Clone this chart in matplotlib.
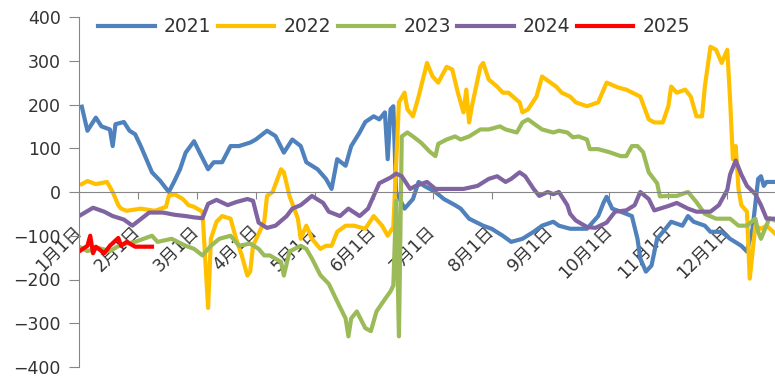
import matplotlib
matplotlib.use('Agg')
import matplotlib.pyplot as plt

plt.rcParams['font.family'] = ['DejaVu Sans', 'Noto Sans CJK SC']

# trading-day index within the year -> spread value
x21 = [1, 3, 6, 8, 11, 12, 13, 16, 18, 20, 22, 24, 26, 29, 32, 34, 36, 38, 41, 43,
       46, 48, 51, 54, 57, 61, 63, 67, 70, 73, 76, 79, 81, 85, 88, 90, 92, 95, 97, 100,
       102, 105, 107, 109, 110, 111, 112, 113, 116, 119, 121, 123, 127, 130, 134, 136, 139, 144, 147, 151,
       154, 158, 162, 165, 169, 171, 175, 178, 181, 185, 187, 188, 190, 193, 197, 199, 200, 202, 204, 206,
       209, 211, 215, 217, 219, 223, 225, 229, 232, 236, 238, 240, 242, 243, 244, 245, 248]
y21 = [195, 140, 170, 150, 143, 105, 155, 160, 140, 132, 105, 75, 45, 25, 0, 25, 52, 90, 116, 90,
       52, 68, 68, 105, 105, 113, 120, 140, 128, 90, 120, 105, 68, 52, 30, 7, 75, 60, 105, 136,
       160, 173, 166, 182, 75, 189, 196, 0, -38, -16, 23, 14, 0, -16, -30, -38, -61, -77, -84, -100,
       -114, -107, -91, -77, -68, -77, -84, -84, -84, -55, -23, -11, -38, -45, -55, -107, -152, -182, -168, -107,
       -84, -68, -77, -55, -68, -77, -91, -91, -107, -123, -136, -84, 30, 36, 14, 23, 23]

x22 = [1, 3, 6, 10, 12, 14, 15, 17, 22, 27, 31, 32, 34, 37, 39, 41, 44, 46, 47, 49,
       51, 54, 56, 58, 60, 61, 62, 66, 67, 69, 72, 73, 75, 78, 79, 81, 83, 86, 88, 90,
       92, 95, 98, 102, 105, 108, 110, 112, 114, 116, 117, 119, 121, 124, 126, 128, 131, 133, 135, 137,
       138, 139, 140, 143, 144, 146, 149, 151, 153, 157, 158, 160, 163, 165, 168, 170, 172, 175, 177, 181,
       185, 188, 192, 195, 200, 203, 205, 208, 210, 211, 213, 216, 218, 220, 222, 223, 225, 227, 229, 231,
       232, 233, 234, 235, 236, 238, 239, 241, 243, 245, 248]
y22 = [18, 25, 18, 23, 0, -30, -38, -43, -38, -43, -34, -9, -5, -16, -30, -34, -45, -265, -107, -68,
       -55, -61, -107, -145, -191, -182, -123, -68, -9, 0, 52, 45, -9, -61, -107, -77, -107, -130, -123, -123,
       -91, -77, -77, -84, -55, -77, -100, -80, 205, 227, 189, 173, 218, 295, 264, 250, 286, 280, 227, 182,
       234, 159, 196, 286, 295, 257, 241, 227, 227, 205, 182, 189, 218, 264, 250, 241, 227, 218, 205, 196,
       205, 250, 239, 234, 218, 166, 159, 159, 196, 241, 227, 234, 218, 173, 173, 241, 332, 325, 295, 325,
       211, 75, 105, 7, -30, -45, -198, -77, -84, -77, -95]

x23 = [0, 3, 7, 11, 15, 20, 26, 28, 33, 38, 41, 44, 47, 50, 54, 57, 61, 64, 66, 68,
       72, 73, 75, 79, 81, 83, 86, 89, 92, 95, 96, 97, 99, 102, 104, 106, 109, 111, 112, 113,
       114, 115, 117, 119, 122, 125, 127, 128, 131, 134, 136, 139, 143, 146, 150, 152, 156, 158, 160, 163,
       165, 169, 171, 174, 176, 178, 181, 182, 185, 189, 193, 195, 197, 199, 201, 203, 206, 207, 210, 213,
       217, 220, 223, 227, 232, 235, 238, 241, 242, 243, 246, 248]
y23 = [-125, -135, -128, -135, -120, -114, -100, -114, -107, -123, -130, -145, -123, -107, -100, -123, -118, -130, -145, -145,
       -160, -191, -136, -123, -130, -152, -190, -210, -250, -289, -330, -289, -273, -311, -318, -273, -245, -227, -214, -20,
       -330, 127, 136, 127, 112, 92, 82, 110, 120, 127, 120, 127, 143, 143, 150, 143, 136, 159, 166, 152,
       143, 136, 140, 136, 125, 127, 120, 98, 98, 91, 82, 82, 105, 105, 91, 45, 20, -10, -9, -9,
       0, -23, -50, -61, -61, -77, -77, -61, -91, -107, -60, -65]

x24 = [0, 5, 9, 12, 16, 19, 22, 25, 30, 34, 38, 41, 44, 46, 49, 53, 56, 60, 62, 64,
       67, 70, 74, 76, 79, 83, 87, 89, 93, 96, 100, 103, 105, 107, 111, 113, 115, 118, 120, 124,
       127, 132, 137, 142, 146, 149, 152, 154, 157, 159, 162, 164, 167, 169, 171, 174, 175, 177, 181, 184,
       188, 191, 195, 198, 200, 203, 205, 210, 213, 217, 220, 225, 228, 231, 232, 234, 236, 238, 241, 243,
       245, 248]
y24 = [-55, -36, -45, -55, -63, -77, -62, -47, -47, -52, -55, -58, -60, -27, -18, -30, -23, -16, -20, -70,
       -82, -77, -55, -38, -30, -9, -25, -45, -55, -38, -55, -38, -9, 20, 33, 42, 36, 7, 14, 23,
       7, 7, 7, 14, 30, 36, 23, 30, 45, 36, 7, -9, 0, -5, 0, -30, -50, -65, -80, -82,
       -70, -45, -42, -30, 0, -16, -42, -32, -25, -38, -45, -45, -30, 5, 40, 72, 40, 14, -5, -30,
       -61, -61]

x25 = [0, 3, 4, 5, 6, 9, 11, 14, 15, 17, 20, 23, 26]
y25 = [-136, -123, -100, -140, -125, -140, -123, -105, -123, -114, -125, -125, -125]

years = ['2021', '2022', '2023', '2024', '2025']
colors = ['#4F81BD', '#FFC000', '#9BBB59', '#8064A2', '#FF0000']

month_ticks = [0, 21, 42, 63, 84, 105, 126, 147, 168, 189, 210, 231]
month_labels = ['1月1日', '2月1日', '3月1日', '4月1日', '5月1日', '6月1日',
                '7月1日', '8月1日', '9月1日', '10月1日', '11月1日', '12月1日']


def style_axes(ax):
    axis_grey = '#868686'
    ax.spines['top'].set_visible(False)
    ax.spines['right'].set_visible(False)
    ax.spines['left'].set_color(axis_grey)
    ax.spines['bottom'].set_color(axis_grey)
    ax.spines['bottom'].set_position(('data', 0))
    ax.set_xlim(0, 248)
    ax.set_ylim(-400, 400)
    ax.set_yticks(range(-400, 401, 100))
    ax.set_xticks(month_ticks)
    ax.set_xticklabels(month_labels, rotation=45, ha='right', va='center',
                       rotation_mode='anchor', fontsize=12.5)
    ax.tick_params(axis='y', colors=axis_grey, labelcolor='#333333',
                   labelsize=12.5, length=7, pad=6)
    ax.tick_params(axis='x', colors=axis_grey, labelcolor='#333333',
                   length=5, pad=21)


fig = plt.figure(figsize=(7.75, 3.77), dpi=100)
ax = fig.add_axes([79 / 775, 10 / 377, 696 / 775, 350 / 377])

series = [(x21, y21), (x22, y22), (x23, y23), (x24, y24), (x25, y25)]
for (xs, ys), year, c in zip(series, years, colors):
    ax.plot(xs, ys, color=c, lw=3, label=year, solid_joinstyle='round')

style_axes(ax)
ax.legend(loc='center', bbox_to_anchor=(0.453, 0.972), ncol=5, frameon=False,
          fontsize=13.5, handlelength=3.0, handletextpad=0.5, columnspacing=0.35,
          labelcolor='#333333')

fig.savefig('out.png', dpi=100)
